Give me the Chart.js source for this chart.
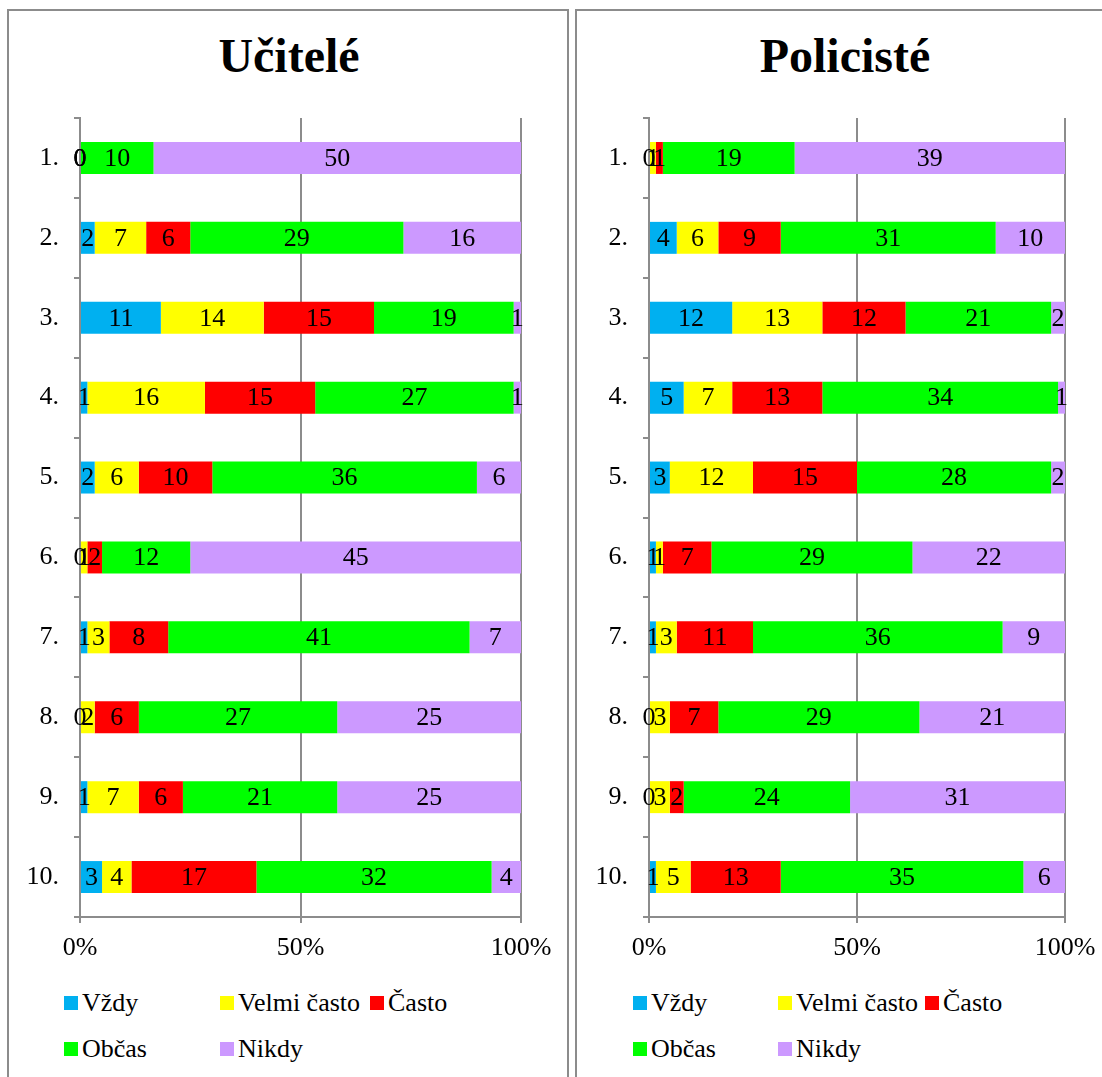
<!DOCTYPE html>
<html>
<head>
<meta charset="utf-8">
<script src="https://cdn.jsdelivr.net/npm/chart.js@4"></script>
<style>
  body { margin: 0; background: #fff; font-family: 'Liberation Serif', 'Times New Roman', serif; overflow: hidden; }
  .panel { position: absolute; top: 9px; height: 1100px; border: 2px solid #8c8c8c; box-sizing: border-box; background: #fff; }
  .title { position: absolute; top: 28px; font-size: 48px; font-weight: bold; color: #000; white-space: nowrap; transform: translateX(-50%); }
  .box { position: absolute; top: 12px; height: 968px; }
  .legend { position: absolute; display: grid; row-gap: 16px; font-size: 26px; color: #000; }
  .legend span { display: flex; align-items: center; white-space: nowrap; }
  .legend i { display: inline-block; width: 14px; height: 14px; margin-right: 4px; }
</style>
</head>
<body>
<div class="panel" style="left:7px;width:562px"></div>
<div class="panel" style="left:575px;width:540px"></div>
<div class="title" style="left:289px">Učitelé</div>
<div class="title" style="left:845px">Policisté</div>
<div class="box" style="left:10px;width:556px"><canvas id="ucitele"></canvas></div>
<div class="box" style="left:578px;width:520px"><canvas id="policiste"></canvas></div>
<div class="legend" id="leg1" style="left:64px;top:988px;grid-template-columns:156px 150px 150px"></div>
<div class="legend" id="leg2" style="left:633px;top:988px;grid-template-columns:145px 147px 150px"></div>
<script>
var categories = ['1.', '2.', '3.', '4.', '5.', '6.', '7.', '8.', '9.', '10.'];
var seriesNames = ['Vždy', 'Velmi často', 'Často', 'Občas', 'Nikdy'];
var seriesColors = ['#00b0f0', '#ffff00', '#ff0000', '#00ff00', '#cc99ff'];
var xTicks = [0, 50, 100];

// Učitelé - counts per answer
var uciteleVzdy   = [0, 2, 11, 1, 2, 0, 1, 0, 1, 3];
var uciteleVelmi  = [0, 7, 14, 16, 6, 1, 3, 2, 7, 4];
var uciteleCasto  = [0, 6, 15, 15, 10, 2, 8, 6, 6, 17];
var uciteleObcas  = [10, 29, 19, 27, 36, 12, 41, 27, 21, 32];
var uciteleNikdy  = [50, 16, 1, 1, 6, 45, 7, 25, 25, 4];

// Policisté - counts per answer
var policisteVzdy  = [0, 4, 12, 5, 3, 1, 1, 0, 0, 1];
var policisteVelmi = [1, 6, 13, 7, 12, 1, 3, 3, 3, 5];
var policisteCasto = [1, 9, 12, 13, 15, 7, 11, 7, 2, 13];
var policisteObcas = [19, 31, 21, 34, 28, 29, 36, 29, 24, 35];
var policisteNikdy = [39, 10, 2, 1, 2, 22, 9, 21, 31, 6];

var serif = "'Liberation Serif', 'Times New Roman', serif";
var gray = '#8c8c8c';

function buildDatasets(series) {
  var totals = categories.map(function (c, i) {
    return series.reduce(function (s, arr) { return s + arr[i]; }, 0);
  });
  return series.map(function (arr, k) {
    return {
      label: seriesNames[k],
      counts: arr,
      data: arr.map(function (v, i) { return v / totals[i] * 100; }),
      backgroundColor: seriesColors[k],
      borderWidth: 0,
      categoryPercentage: 1,
      barPercentage: 0.4
    };
  });
}

// draw the counts in the middle of each segment
var valueLabels = {
  id: 'valueLabels',
  afterDatasetsDraw: function (chart) {
    var ctx = chart.ctx;
    ctx.save();
    ctx.font = '26px ' + serif;
    ctx.fillStyle = '#000';
    ctx.textAlign = 'center';
    ctx.textBaseline = 'middle';
    chart.data.datasets.forEach(function (ds, di) {
      chart.getDatasetMeta(di).data.forEach(function (bar, i) {
        ctx.fillText(String(ds.counts[i]), (bar.x + bar.base) / 2, bar.y + 1);
      });
    });
    ctx.restore();
  }
};

function makeChart(id, series, yWidth, padRight) {
  return new Chart(document.getElementById(id), {
    type: 'bar',
    data: { labels: categories, datasets: buildDatasets(series) },
    plugins: [valueLabels],
    options: {
      indexAxis: 'y',
      responsive: true,
      maintainAspectRatio: false,
      animation: false,
      layout: { padding: { top: 106, left: 0, right: padRight, bottom: 0 } },
      plugins: { legend: { display: false }, tooltip: { enabled: false } },
      scales: {
        x: {
          stacked: true,
          min: 0,
          max: 100,
          afterBuildTicks: function (scale) {
            scale.ticks = xTicks.map(function (v) { return { value: v }; });
          },
          afterFit: function (scale) {
            scale.height = 63;
            scale.paddingLeft = 0;
            scale.paddingRight = 0;
          },
          ticks: {
            color: '#000',
            padding: 10,
            maxRotation: 0,
            font: { family: serif, size: 26 },
            callback: function (v) { return v + '%'; }
          },
          grid: { color: gray, lineWidth: 2, tickLength: 6 },
          border: { color: gray, width: 2 }
        },
        y: {
          stacked: true,
          offset: true,
          afterFit: function (scale) { scale.width = yWidth; },
          ticks: { color: '#000', padding: 15, font: { family: serif, size: 26 } },
          grid: { offset: true, drawOnChartArea: false, color: gray, lineWidth: 2, tickLength: 6 },
          border: { color: gray, width: 2 }
        }
      }
    }
  });
}

makeChart('ucitele', [uciteleVzdy, uciteleVelmi, uciteleCasto, uciteleObcas, uciteleNikdy], 70, 45);
makeChart('policiste', [policisteVzdy, policisteVelmi, policisteCasto, policisteObcas, policisteNikdy], 71, 33);

// legend, laid out in columns like the original
['leg1', 'leg2'].forEach(function (id) {
  var el = document.getElementById(id);
  seriesNames.forEach(function (name, k) {
    var item = document.createElement('span');
    var mark = document.createElement('i');
    mark.style.background = seriesColors[k];
    item.appendChild(mark);
    item.appendChild(document.createTextNode(name));
    el.appendChild(item);
  });
});
</script>
</body>
</html>
